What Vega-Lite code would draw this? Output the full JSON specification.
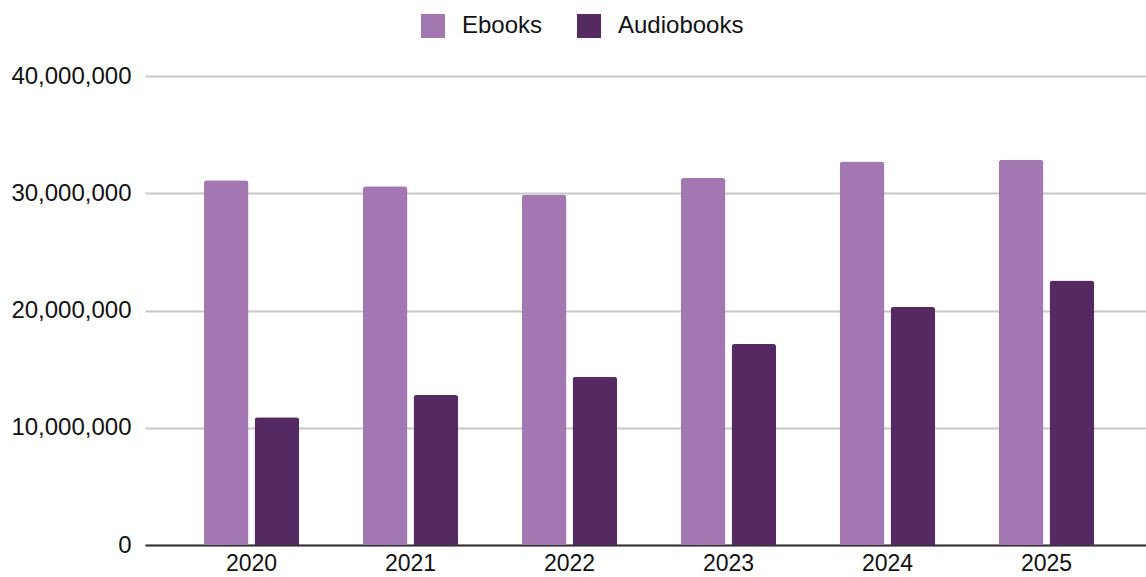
{
  "$schema": "https://vega.github.io/schema/vega-lite/v6.json",
  "width": 1008,
  "height": 469,
  "autosize": "none",
  "padding": {"left": 145, "top": 76, "right": 0, "bottom": 32},
  "background": "white",
  "config": {
    "font": "Liberation Sans",
    "view": {"stroke": null}
  },
  "data": {
    "values": [
      {"year": "2020", "type": "Ebooks", "value": 31100000},
      {"year": "2020", "type": "Audiobooks", "value": 10900000},
      {"year": "2021", "type": "Ebooks", "value": 30600000},
      {"year": "2021", "type": "Audiobooks", "value": 12800000},
      {"year": "2022", "type": "Ebooks", "value": 29900000},
      {"year": "2022", "type": "Audiobooks", "value": 14350000},
      {"year": "2023", "type": "Ebooks", "value": 31300000},
      {"year": "2023", "type": "Audiobooks", "value": 17150000},
      {"year": "2024", "type": "Ebooks", "value": 32700000},
      {"year": "2024", "type": "Audiobooks", "value": 20300000},
      {"year": "2025", "type": "Ebooks", "value": 32850000},
      {"year": "2025", "type": "Audiobooks", "value": 22550000}
    ]
  },
  "mark": {"type": "bar", "cornerRadiusTopLeft": 3, "cornerRadiusTopRight": 3},
  "encoding": {
    "x": {
      "field": "year",
      "type": "nominal",
      "scale": {"paddingInner": 0.4, "paddingOuter": 0.37},
      "axis": {
        "title": null,
        "labelAngle": 0,
        "labelFontSize": 23,
        "labelColor": "#111111",
        "labelPadding": 7,
        "ticks": false,
        "domainColor": "#333333",
        "domainWidth": 2,
        "grid": false
      }
    },
    "xOffset": {
      "field": "type",
      "sort": ["Ebooks", "Audiobooks"],
      "scale": {"paddingInner": 0.12}
    },
    "y": {
      "field": "value",
      "type": "quantitative",
      "scale": {"domain": [0, 40000000], "nice": false},
      "axis": {
        "title": null,
        "values": [0, 10000000, 20000000, 30000000, 40000000],
        "format": ",d",
        "labelFontSize": 24,
        "labelColor": "#111111",
        "labelPadding": 14,
        "ticks": false,
        "domain": false,
        "gridColor": "#c8c8c8",
        "gridWidth": 2
      }
    },
    "color": {
      "field": "type",
      "type": "nominal",
      "sort": ["Ebooks", "Audiobooks"],
      "scale": {"domain": ["Ebooks", "Audiobooks"], "range": ["#A277B2", "#552A63"]},
      "legend": {
        "title": null,
        "orient": "none",
        "direction": "horizontal",
        "legendX": 276,
        "legendY": -62,
        "symbolType": "square",
        "symbolSize": 576,
        "symbolStrokeWidth": 0,
        "labelFontSize": 24,
        "labelColor": "#111111",
        "labelOffset": 17,
        "columnPadding": 34
      }
    }
  }
}
